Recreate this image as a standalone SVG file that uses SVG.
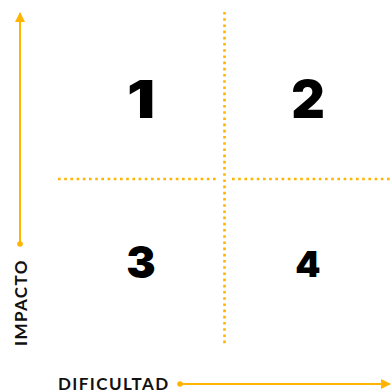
<svg xmlns="http://www.w3.org/2000/svg" width="391" height="392" viewBox="0 0 391 392">
<style>
.axis{stroke:#FFB400;stroke-width:2;fill:none}
.grid{stroke:#FFB400;stroke-width:2.6;stroke-dasharray:2.6 3.6;fill:none}
.lbl{font-family:"Lato","Open Sans",sans-serif;font-weight:700;font-size:17px;letter-spacing:1.4px;fill:#111}
.num{font-family:"Inter","Roboto",sans-serif;font-weight:900;fill:#000;text-anchor:middle}
</style>
<defs>
<marker id="ah" viewBox="0 0 10 10" refX="9" refY="5" markerWidth="10" markerHeight="10" markerUnits="userSpaceOnUse" orient="auto">
<path d="M0,0 L10,5 L0,10 Z" fill="#FFB400"/>
</marker>
</defs>
<g id="connectors">
<line class="axis" x1="20" y1="244" x2="20" y2="13" marker-end="url(#ah)"/>
<circle cx="20" cy="244" r="2.8" fill="#FFB400"/>
<line class="axis" x1="180" y1="384" x2="390" y2="384" marker-end="url(#ah)"/>
<circle cx="180" cy="384" r="2.8" fill="#FFB400"/>
<line class="grid" x1="224.5" y1="12" x2="224.5" y2="346"/>
<line class="grid" x1="58" y1="179" x2="219" y2="179"/>
<line class="grid" x1="232" y1="179" x2="391" y2="179"/>
</g>
<g id="label-impacto"><text class="lbl" transform="translate(26.5,346) rotate(-90)">IMPACTO</text></g>
<g id="label-dificultad"><text class="lbl" x="58" y="389.5">DIFICULTAD</text></g>
<g id="q1"><text class="num" transform="translate(141,118) scale(1.2,1)" font-size="52">1</text></g>
<g id="q2"><text class="num" x="308" y="118" font-size="52">2</text></g>
<g id="q3"><text class="num" x="141" y="278" font-size="44">3</text></g>
<g id="q4"><text class="num" x="308" y="277" font-size="36">4</text></g>
</svg>
